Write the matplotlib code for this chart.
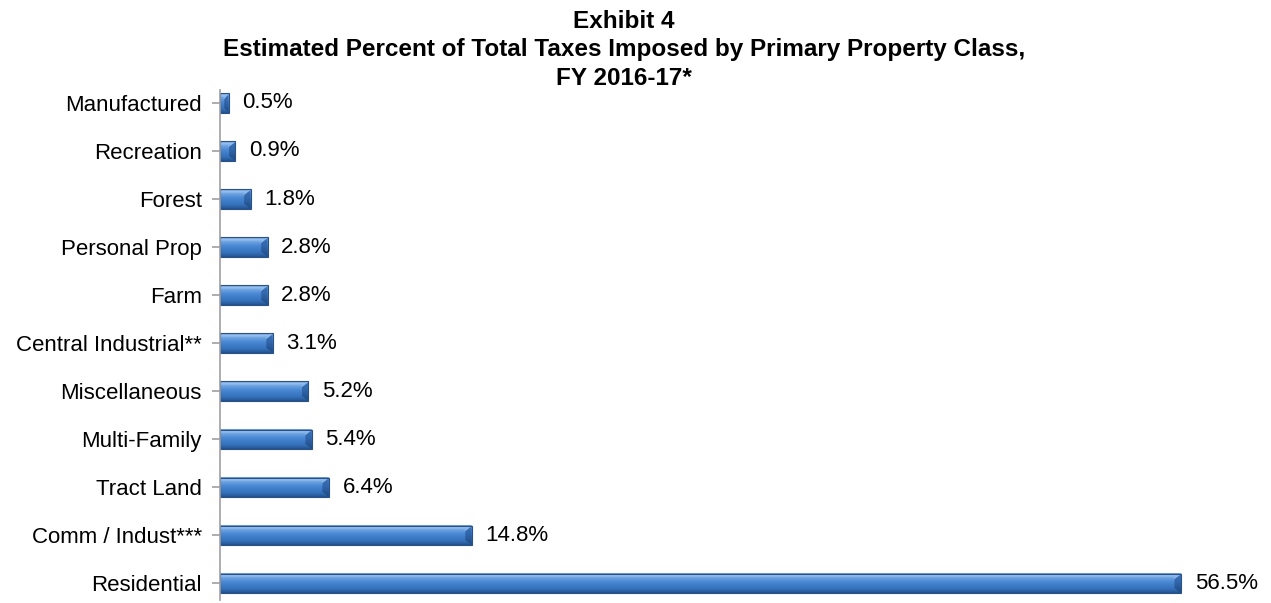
import numpy as np
import matplotlib.pyplot as plt
from matplotlib.patches import Polygon
from matplotlib.colors import LinearSegmentedColormap

plt.rcParams['font.family'] = ['Liberation Sans', 'DejaVu Sans']

# data, top to bottom as in the chart
categories = ['Manufactured', 'Recreation', 'Forest', 'Personal Prop', 'Farm',
              'Central Industrial**', 'Miscellaneous', 'Multi-Family',
              'Tract Land', 'Comm / Indust***', 'Residential']
percents = [0.5, 0.9, 1.8, 2.8, 2.8, 3.1, 5.2, 5.4, 6.4, 14.8, 56.5]
title_lines = ['Exhibit 4',
               'Estimated Percent of Total Taxes Imposed by Primary Property Class,',
               'FY 2016-17*']

# vertical shading of each bar, bottom -> top
bar_cmap = LinearSegmentedColormap.from_list(
    'bevel', [(0.0, '#24528c'), (0.2, '#3470bb'), (0.55, '#4a87d2'),
              (0.78, '#6ea4e3'), (0.88, '#9cc4f0'), (1.0, '#5f93d4')])
end_cmap = LinearSegmentedColormap.from_list(
    'bevel_end', [(0.0, '#1f4a80'), (0.5, '#2f64a8'), (1.0, '#3c74bb')])
grad = np.linspace(0, 1, 64).reshape(-1, 1)

fig = plt.figure(figsize=(12.71, 6.03), dpi=100)
ax = fig.add_axes([220 / 1271, 3 / 603, 1046 / 1271, 510 / 603])

n = len(categories)
ypos = np.arange(n)[::-1]
h = 0.4
bx = 0.38   # end bevel width in data units
by = 0.1    # end bevel height in data units

for y, v in zip(ypos, percents):
    top = y + h / 2
    bot = y - h / 2
    b = min(bx, v / 2)
    ax.imshow(grad, cmap=bar_cmap, origin='lower', aspect='auto',
              extent=(0, v, bot, top), interpolation='bilinear', zorder=2)
    # right end bevel
    end = Polygon([(v, top), (v - b, top - by), (v - b, bot + by), (v, bot)],
                  closed=True, fc='none', ec='none', zorder=3)
    ax.add_patch(end)
    im = ax.imshow(grad, cmap=end_cmap, origin='lower', aspect='auto',
                   extent=(v - b, v, bot, top), interpolation='bilinear', zorder=3)
    im.set_clip_path(end)
    ax.plot([v, v - b], [top, top - by], color='#8fbaec', lw=0.8, zorder=3.5)
    ax.add_patch(Polygon([(0, bot), (v, bot), (v, top), (0, top)],
                         closed=True, fc='none', ec='#2a5189', lw=0.8, zorder=4))
    ax.text(v + 0.8, y, f'{v}%', va='center', ha='left', fontsize=16)

ax.set_xlim(0, 61.5)
ax.set_ylim(-0.35, n - 1 + 0.27)
ax.set_yticks(ypos)
ax.set_yticklabels(categories, fontsize=16)
ax.set_xticks([])
for s in ['top', 'right', 'bottom']:
    ax.spines[s].set_visible(False)
ax.spines['left'].set_color('#a0a0a0')
ax.spines['left'].set_linewidth(1.2)
ax.spines['left'].set_zorder(5)
ax.tick_params(axis='y', length=6, color='#a0a0a0', width=1.2, pad=7)

title_x = 624 / 1271
for line, base in zip(title_lines, [28, 56, 85]):
    fig.text(title_x, 1 - base / 603, line, ha='center', va='baseline',
             fontsize=17.5, fontweight='bold')

fig.savefig('out.png', dpi=100)
